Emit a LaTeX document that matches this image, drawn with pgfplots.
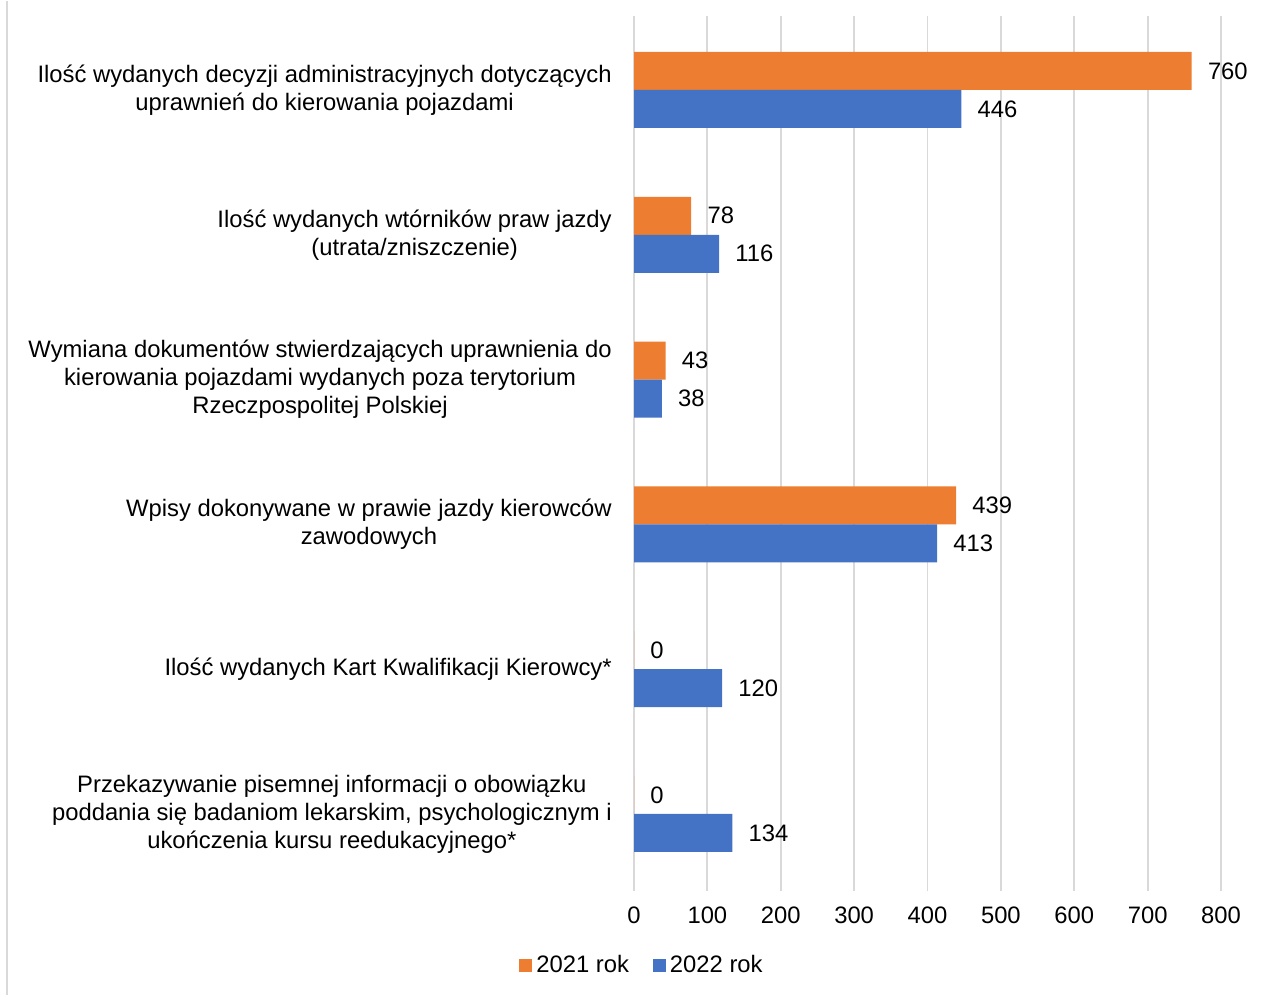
\documentclass[border=0pt]{standalone}
\usepackage{fontspec}
\setmainfont{Liberation Sans}
\usepackage{pgfplots}
\pgfplotsset{compat=1.18}
\definecolor{orangeB}{HTML}{ED7D31}
\definecolor{blueB}{HTML}{4472C4}
\definecolor{gridc}{HTML}{D9D9D9}
\newcommand{\cf}{\fontsize{11.9}{14}\selectfont}
\begin{document}
\cf
\begin{tikzpicture}
\begin{axis}[
  scale only axis, width=293.5pt, height=437.5pt,
  xmin=0, xmax=800, ymin=-0.532, ymax=5.511,
  xbar, bar width=19pt,
  clip=false,
  xtick={0,100,...,800},
  ytick={0,...,5},
  yticklabels={
    {Przekazywanie pisemnej informacji o obowiązku\\poddania się badaniom lekarskim, psychologicznym i\\ukończenia kursu reedukacyjnego*},
    {Ilość wydanych Kart Kwalifikacji Kierowcy*},
    {Wpisy dokonywane w prawie jazdy kierowców\\zawodowych},
    {Wymiana dokumentów stwierdzających uprawnienia do\\kierowania pojazdami wydanych poza terytorium\\Rzeczpospolitej Polskiej},
    {Ilość wydanych wtórników praw jazdy\\(utrata/zniszczenie)},
    {Ilość wydanych decyzji administracyjnych dotyczących\\uprawnień do kierowania pojazdami}
  },
  yticklabel style={align=center, font=\cf, xshift=-7pt},
  xticklabel style={font=\cf, yshift=-4pt},
  /pgf/number format/assume math mode=true,
  major tick length=0pt,
  axis line style={draw=none},
  xmajorgrids, grid style={gridc, line width=0.9pt},
  nodes near coords,
  every node near coord/.append style={font=\cf, anchor=west, xshift=4pt, black},
  legend style={at={(rel axis cs:0.0153,-0.0857)}, anchor=center, draw=none, font=\cf,
    legend columns=2, /tikz/every even column/.append style={column sep=10pt},
    legend cell align=left},
  legend image code/.code={\fill[#1] (0pt,-3.25pt) rectangle (6.5pt,3.25pt);},
]
\addplot[fill=orangeB, draw=none, bar shift=9.5pt] coordinates {(760,5) (78,4) (43,3) (439,2) (0,1) (0,0)};
\addplot[fill=blueB, draw=none, bar shift=-9.5pt] coordinates {(446,5) (116,4) (38,3) (413,2) (120,1) (134,0)};
\legend{2021 rok, 2022 rok}
\coordinate (TL) at (rel axis cs:-1.0801,1.01714);
\coordinate (BR) at (rel axis cs:1.0681,-0.11886);
\coordinate (LT) at (rel axis cs:-1.068,1.01714);
\coordinate (LB) at (rel axis cs:-1.068,-0.11886);
\end{axis}
\draw[gridc, line width=1pt] (LT) -- (LB);
\path (TL) rectangle (BR);
\end{tikzpicture}
\end{document}
